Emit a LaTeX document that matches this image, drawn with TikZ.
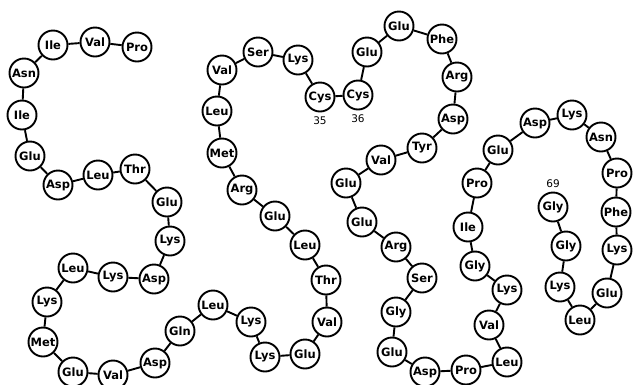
\documentclass[tikz,border=0pt]{standalone}
\usepackage{fontspec}
\setmainfont{DejaVu Sans}
\usetikzlibrary{positioning}
\tikzset{
  residu/.style={draw, circle, line width=1.9pt, minimum size=29pt, inner sep=0pt,
    font=\fontsize{11.5}{11.5}\selectfont\bfseries},
  numero/.style={inner sep=0pt, font=\fontsize{10.5}{10.5}\selectfont},
  lien/.style={line width=1.9pt}
}
\begin{document}
\begin{tikzpicture}[x=1pt,y=-1pt]
  \useasboundingbox (0,0) rectangle (633,384);
  \node[residu] (r1) at (137,47) {Pro};
  \node[residu] (r2) at (95,42) {Val};
  \node[residu] (r3) at (53,45) {Ile};
  \node[residu] (r4) at (24,73) {Asn};
  \node[residu] (r5) at (22,115) {Ile};
  \node[residu] (r6) at (30,156) {Glu};
  \node[residu] (r7) at (58,185) {Asp};
  \node[residu] (r8) at (98,175) {Leu};
  \node[residu] (r9) at (135,169) {Thr};
  \node[residu] (r10) at (167,202) {Glu};
  \node[residu] (r11) at (170,241) {Lys};
  \node[residu] (r12) at (154,279) {Asp};
  \node[residu] (r13) at (113,277) {Lys};
  \node[residu] (r14) at (73,268) {Leu};
  \node[residu] (r15) at (47,302) {Lys};
  \node[residu] (r16) at (43,342) {Met};
  \node[residu] (r17) at (73,372) {Glu};
  \node[residu] (r18) at (113,375) {Val};
  \node[residu] (r19) at (155,363) {Asp};
  \node[residu] (r20) at (180,331) {Gln};
  \node[residu] (r21) at (213,305) {Leu};
  \node[residu] (r22) at (251,322) {Lys};
  \node[residu] (r23) at (265,357) {Lys};
  \node[residu] (r24) at (305,354) {Glu};
  \node[residu] (r25) at (327,322) {Val};
  \node[residu] (r26) at (326,280) {Thr};
  \node[residu] (r27) at (305,245) {Leu};
  \node[residu] (r28) at (275,216) {Glu};
  \node[residu] (r29) at (242,190) {Arg};
  \node[residu] (r30) at (222,153) {Met};
  \node[residu] (r31) at (217,111) {Leu};
  \node[residu] (r32) at (222,70) {Val};
  \node[residu] (r33) at (258,52) {Ser};
  \node[residu] (r34) at (298,60) {Lys};
  \node[residu] (r35) at (320,97) {Cys};
  \node[residu] (r36) at (358,95) {Cys};
  \node[residu] (r37) at (367,52) {Glu};
  \node[residu] (r38) at (399,26) {Glu};
  \node[residu] (r39) at (442,39) {Phe};
  \node[residu] (r40) at (457,77) {Arg};
  \node[residu] (r41) at (453,119) {Asp};
  \node[residu] (r42) at (422,148) {Tyr};
  \node[residu] (r43) at (381,160) {Val};
  \node[residu] (r44) at (346,183) {Glu};
  \node[residu] (r45) at (362,222) {Glu};
  \node[residu] (r46) at (396,247) {Arg};
  \node[residu] (r47) at (422,278) {Ser};
  \node[residu] (r48) at (396,312) {Gly};
  \node[residu] (r49) at (392,352) {Glu};
  \node[residu] (r50) at (425,372) {Asp};
  \node[residu] (r51) at (466,370) {Pro};
  \node[residu] (r52) at (507,362) {Leu};
  \node[residu] (r53) at (489,325) {Val};
  \node[residu] (r54) at (507,290) {Lys};
  \node[residu] (r55) at (475,266) {Gly};
  \node[residu] (r56) at (468,227) {Ile};
  \node[residu] (r57) at (477,183) {Pro};
  \node[residu] (r58) at (498,150) {Glu};
  \node[residu] (r59) at (535,123) {Asp};
  \node[residu] (r60) at (572,115) {Lys};
  \node[residu] (r61) at (601,137) {Asn};
  \node[residu] (r62) at (617,173) {Pro};
  \node[residu] (r63) at (616,212) {Phe};
  \node[residu] (r64) at (617,250) {Lys};
  \node[residu] (r65) at (607,293) {Glu};
  \node[residu] (r66) at (580,320) {Leu};
  \node[residu] (r67) at (560,287) {Lys};
  \node[residu] (r68) at (566,246) {Gly};
  \node[residu] (r69) at (553,207) {Gly};
  \foreach \a [count=\b from 2] in {1,...,68}
    \draw[lien] (r\a) -- (r\b);
  \node[numero, below=4pt of r35] (n35) {35};
  \node[numero, below=4pt of r36] (n36) {36};
  \node[numero, above=4pt of r69] (n69) {69};
\end{tikzpicture}
\end{document}
